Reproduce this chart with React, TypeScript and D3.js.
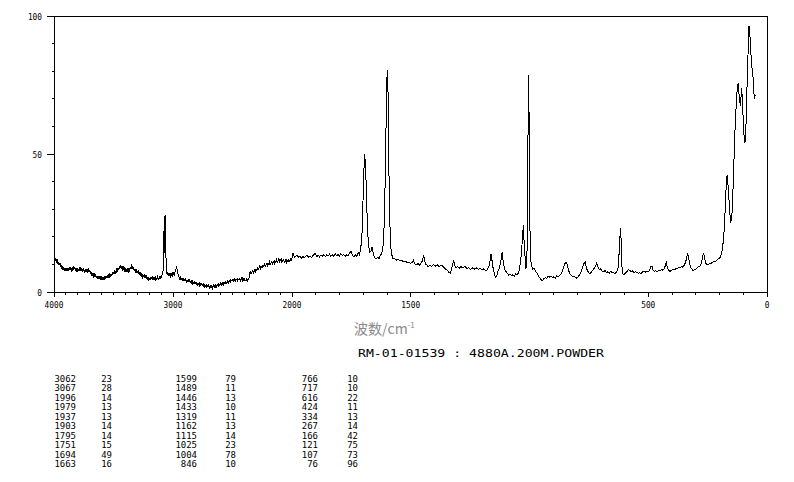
import React from "react";
import * as d3 from "d3";

// ---- data ----
const xBreaks = [4000, 2000, 0];
const xTickLabels = [4000, 3000, 2000, 1500, 500, 0];
const yTickLabels = [0, 50, 100];

// spectrum 4000-2000 cm-1 (compressed region)
const specHigh: [number, number][] = [
  [4000, 10.5], [3995, 12.0], [3990, 11.2], [3985, 12.3], [3980, 10.6], [3975, 11.9], [3970, 11.4], [3965, 10.0],
  [3960, 10.8], [3955, 9.7], [3950, 10.6], [3945, 9.0], [3940, 9.6], [3935, 8.2], [3930, 8.9], [3925, 8.0],
  [3920, 9.0], [3915, 7.8], [3910, 8.4], [3905, 7.6], [3900, 8.8], [3895, 7.7], [3890, 8.4], [3885, 7.5],
  [3880, 8.6], [3875, 7.8], [3870, 8.2], [3865, 9.0], [3860, 7.9], [3855, 8.8], [3850, 7.4], [3845, 8.6],
  [3840, 8.0], [3835, 9.3], [3830, 8.2], [3825, 9.0], [3820, 7.6], [3815, 8.8], [3810, 7.9], [3805, 8.6],
  [3800, 7.2], [3795, 8.4], [3790, 7.6], [3785, 8.9], [3780, 7.8], [3775, 9.2], [3770, 8.0], [3765, 8.6],
  [3760, 7.4], [3755, 8.5], [3750, 7.8], [3745, 7.0], [3740, 8.0], [3735, 7.2], [3730, 8.4], [3725, 7.4],
  [3720, 8.2], [3715, 7.0], [3710, 8.6], [3705, 7.3], [3700, 7.6], [3695, 6.8], [3690, 7.3], [3685, 6.2],
  [3680, 6.8], [3675, 6.0], [3670, 6.9], [3665, 5.6], [3660, 6.2], [3655, 5.4], [3650, 6.3], [3645, 5.0],
  [3640, 5.8], [3635, 4.9], [3630, 5.9], [3625, 4.8], [3620, 5.5], [3615, 4.6], [3610, 5.7], [3605, 4.5],
  [3600, 5.2], [3595, 4.6], [3590, 5.5], [3585, 4.7], [3580, 5.3], [3575, 4.8], [3570, 5.9], [3565, 5.0],
  [3560, 5.6], [3555, 5.1], [3550, 6.3], [3545, 5.4], [3540, 6.1], [3535, 5.6], [3530, 6.8], [3525, 5.9],
  [3520, 6.5], [3515, 6.0], [3510, 7.3], [3505, 6.4], [3500, 7.0], [3495, 6.6], [3490, 7.9], [3485, 7.0],
  [3480, 7.6], [3475, 7.2], [3470, 8.7], [3465, 7.8], [3460, 8.4], [3455, 8.0], [3450, 9.1], [3445, 8.6],
  [3440, 9.7], [3435, 8.3], [3430, 9.0], [3425, 8.4], [3420, 9.5], [3415, 8.0], [3410, 8.6], [3405, 7.6],
  [3400, 8.2], [3395, 7.2], [3390, 7.8], [3385, 7.4], [3380, 8.2], [3375, 7.6], [3370, 8.6], [3365, 7.9],
  [3360, 8.4], [3355, 8.8], [3350, 9.4], [3345, 8.4], [3340, 8.9], [3335, 8.2], [3330, 9.1], [3325, 7.6],
  [3320, 8.2], [3315, 7.5], [3310, 8.4], [3305, 6.9], [3300, 7.5], [3295, 7.0], [3290, 7.8], [3285, 6.4],
  [3280, 6.9], [3275, 6.2], [3270, 7.1], [3265, 5.8], [3260, 6.3], [3255, 5.3], [3250, 6.0], [3245, 5.6],
  [3240, 6.4], [3235, 5.0], [3230, 5.6], [3225, 5.1], [3220, 6.0], [3215, 4.8], [3210, 5.3], [3205, 4.4],
  [3200, 4.9], [3195, 4.5], [3190, 5.5], [3185, 4.6], [3180, 5.0], [3175, 4.6], [3170, 5.7], [3165, 4.7],
  [3160, 5.2], [3155, 4.8], [3150, 5.6], [3145, 4.5], [3140, 4.9], [3135, 4.6], [3130, 5.4], [3125, 4.6],
  [3120, 5.0], [3115, 4.9], [3110, 5.8], [3105, 4.9], [3100, 5.3], [3095, 5.6], [3090, 6.5], [3085, 7.2],
  [3080, 9.0], [3076, 22], [3072, 14], [3067, 28], [3064, 18], [3062, 23], [3058, 10], [3054, 7.6],
  [3050, 6.6], [3045, 7.2], [3040, 5.8], [3035, 6.6], [3030, 6.2], [3025, 6.9], [3020, 5.6], [3015, 6.2],
  [3010, 6.6], [3005, 6.0], [3000, 7.1], [2995, 6.4], [2990, 6.0], [2985, 6.9], [2980, 7.6], [2975, 8.4],
  [2970, 9.3], [2965, 8.0], [2960, 7.0], [2955, 6.0], [2950, 5.4], [2945, 5.0], [2940, 4.4], [2935, 5.3],
  [2930, 4.9], [2925, 4.3], [2920, 4.7], [2915, 4.0], [2910, 5.0], [2905, 4.2], [2900, 4.0], [2895, 4.7],
  [2890, 4.3], [2885, 3.6], [2880, 4.1], [2875, 3.8], [2870, 4.7], [2865, 3.7], [2860, 4.2], [2855, 3.3],
  [2850, 3.7], [2845, 3.4], [2840, 4.2], [2835, 3.0], [2830, 3.5], [2825, 3.1], [2820, 3.9], [2815, 2.8],
  [2810, 3.2], [2805, 2.8], [2800, 3.7], [2795, 2.6], [2790, 3.0], [2785, 2.7], [2780, 3.5], [2775, 2.3],
  [2770, 2.8], [2765, 2.4], [2760, 3.3], [2755, 2.2], [2750, 2.6], [2745, 2.3], [2740, 3.1], [2735, 2.0],
  [2730, 2.4], [2725, 2.1], [2720, 3.0], [2715, 1.8], [2710, 2.2], [2705, 1.9], [2700, 2.8], [2695, 1.5],
  [2690, 2.0], [2685, 1.7], [2680, 2.6], [2675, 1.6], [2670, 1.1], [2665, 1.9], [2660, 2.4], [2655, 1.6],
  [2650, 2.1], [2645, 1.9], [2640, 2.9], [2635, 1.9], [2630, 2.3], [2625, 2.2], [2620, 3.1], [2615, 2.1],
  [2610, 2.6], [2605, 2.5], [2600, 3.4], [2595, 2.4], [2590, 2.9], [2585, 2.8], [2580, 3.6], [2575, 2.7],
  [2570, 3.2], [2565, 3.1], [2560, 4.0], [2555, 3.0], [2550, 3.5], [2545, 3.4], [2540, 4.3], [2535, 3.3],
  [2530, 3.8], [2525, 3.7], [2520, 4.5], [2515, 3.6], [2510, 4.1], [2505, 4.0], [2500, 4.8], [2495, 3.8],
  [2490, 4.3], [2485, 4.2], [2480, 5.0], [2475, 4.0], [2470, 4.5], [2465, 4.4], [2460, 5.2], [2455, 4.1],
  [2450, 4.6], [2445, 4.3], [2440, 5.1], [2435, 3.9], [2430, 4.4], [2425, 4.4], [2420, 5.3], [2415, 4.2],
  [2410, 4.7], [2405, 4.2], [2400, 5.0], [2395, 3.9], [2390, 4.3], [2385, 4.3], [2380, 5.1], [2375, 4.0],
  [2370, 4.5], [2365, 4.4], [2360, 5.4], [2355, 6.6], [2350, 7.6], [2345, 6.6], [2340, 7.0], [2335, 7.4],
  [2330, 8.1], [2325, 7.0], [2320, 7.5], [2315, 7.6], [2310, 8.4], [2305, 7.5], [2300, 8.0], [2295, 8.2],
  [2290, 9.1], [2285, 8.0], [2280, 8.5], [2275, 8.7], [2270, 9.6], [2265, 8.5], [2260, 9.0], [2255, 9.0],
  [2250, 9.8], [2245, 8.9], [2240, 9.4], [2235, 9.6], [2230, 10.3], [2225, 9.2], [2220, 9.7], [2215, 9.8],
  [2210, 10.5], [2205, 9.6], [2200, 10.1], [2195, 10.2], [2190, 10.8], [2185, 9.8], [2180, 10.3], [2175, 10.5],
  [2170, 11.1], [2165, 10.1], [2160, 10.6], [2155, 10.8], [2150, 11.4], [2145, 10.4], [2140, 10.9], [2135, 11.0],
  [2130, 11.7], [2125, 10.7], [2120, 11.2], [2115, 11.3], [2110, 12.0], [2105, 11.0], [2100, 11.5], [2095, 11.4],
  [2090, 12.1], [2085, 10.9], [2080, 11.4], [2075, 11.2], [2070, 11.9], [2065, 10.8], [2060, 11.2], [2055, 11.1],
  [2050, 11.8], [2045, 10.7], [2040, 11.1], [2035, 11.2], [2030, 12.0], [2025, 11.0], [2020, 11.5], [2015, 11.4],
  [2010, 12.2], [2005, 11.8], [2000, 12.4],
];

// spectrum 2000-50 cm-1 (expanded region)
const specLow: [number, number][] = [
  [1996, 14], [1990, 12.6], [1984, 12.9], [1979, 13.4], [1972, 12.5], [1966, 12.9], [1960, 12.3], [1954, 12.8],
  [1948, 12.4], [1942, 13.0], [1937, 13.3], [1930, 12.6], [1924, 13.1], [1918, 12.5], [1912, 13.2], [1903, 14],
  [1896, 12.8], [1890, 13.3], [1884, 12.7], [1878, 13.4], [1872, 12.9], [1866, 13.6], [1860, 12.8], [1854, 13.4],
  [1848, 13.0], [1842, 13.7], [1836, 12.9], [1830, 13.5], [1824, 13.0], [1818, 13.8], [1812, 13.2], [1806, 13.6],
  [1800, 13.1], [1795, 14.0], [1788, 13.2], [1782, 13.6], [1776, 12.9], [1770, 13.4], [1764, 13.0], [1758, 14.1],
  [1751, 14.8], [1745, 13.3], [1739, 12.8], [1733, 13.6], [1727, 12.7], [1721, 14.2], [1716, 13.4], [1712, 15.2],
  [1706, 19], [1700, 36], [1696, 47], [1694, 50], [1691, 46], [1687, 38], [1683, 25], [1678, 17],
  [1672, 14.5], [1667, 15], [1663, 16.2], [1658, 14], [1652, 12.4], [1646, 12.0], [1640, 12.6], [1634, 12.1],
  [1628, 13.2], [1622, 14], [1616, 17], [1611, 26], [1606, 48], [1602, 72], [1599, 80.5], [1596, 75],
  [1593, 50], [1589, 28], [1585, 17], [1580, 13.5], [1575, 12.2], [1568, 12.0], [1560, 11.6], [1552, 11.9],
  [1545, 11.3], [1538, 11.5], [1530, 10.9], [1522, 11.2], [1515, 10.6], [1508, 10.9], [1500, 10.4], [1493, 10.8],
  [1489, 11.5], [1484, 10.2], [1476, 9.9], [1468, 10.3], [1462, 9.6], [1456, 10.5], [1450, 11.5], [1446, 13.4],
  [1441, 11.0], [1436, 9.8], [1433, 10.1], [1428, 9.2], [1420, 9.6], [1412, 9.3], [1404, 9.9], [1396, 9.4],
  [1388, 9.8], [1380, 9.2], [1372, 9.7], [1364, 9.3], [1356, 8.5], [1348, 8.0], [1340, 7.2], [1334, 6.8],
  [1328, 8.2], [1323, 10.2], [1319, 11.2], [1314, 9.4], [1308, 8.8], [1302, 9.2], [1296, 8.6], [1288, 9.2],
  [1280, 8.7], [1272, 9.3], [1264, 8.5], [1256, 8.9], [1248, 8.2], [1240, 8.7], [1232, 8.3], [1224, 8.8],
  [1216, 8.2], [1208, 8.5], [1200, 8.0], [1192, 8.4], [1184, 7.6], [1177, 8.2], [1170, 9.5], [1165, 12.0],
  [1162, 13.8], [1158, 11.5], [1153, 8.5], [1148, 6.8], [1143, 5.2], [1138, 5.6], [1133, 7.4], [1126, 9.0],
  [1120, 11.5], [1115, 14.6], [1111, 11.2], [1106, 8.6], [1100, 7.5], [1094, 6.8], [1088, 6.2], [1082, 6.6],
  [1076, 5.9], [1070, 6.3], [1064, 5.8], [1058, 6.5], [1052, 6.2], [1046, 7.0], [1041, 9], [1035, 13],
  [1030, 19], [1026, 24.2], [1022, 17], [1018, 12], [1015, 8.5], [1011, 12], [1008, 28], [1006, 60],
  [1004, 78.5], [1002, 65], [999, 28], [996, 13], [992, 9.5], [986, 8.2], [980, 8.6], [974, 7.4],
  [968, 6.8], [962, 5.6], [956, 5.0], [950, 4.3], [946, 4.1], [940, 4.8], [934, 5.2], [928, 5.0],
  [922, 5.6], [916, 5.4], [910, 5.8], [904, 5.2], [898, 5.5], [892, 5.0], [886, 5.9], [880, 5.4],
  [874, 6.0], [868, 6.4], [862, 7.4], [856, 9.0], [850, 10.4], [846, 10.8], [842, 10.0], [836, 8.0],
  [830, 6.6], [824, 6.0], [818, 5.6], [812, 5.8], [806, 5.2], [800, 5.0], [794, 5.6], [788, 6.4],
  [782, 7.6], [776, 9.2], [770, 10.4], [766, 11.0], [762, 9.4], [756, 7.6], [750, 7.0], [745, 6.6],
  [740, 7.2], [734, 7.8], [728, 8.6], [722, 9.4], [717, 10.6], [712, 9.2], [706, 8.0], [700, 8.4],
  [694, 7.6], [688, 7.4], [682, 7.8], [676, 7.0], [670, 7.3], [664, 6.8], [658, 7.5], [652, 6.9],
  [646, 7.1], [640, 6.6], [634, 7.3], [628, 8.2], [624, 12], [620, 19], [616, 23], [613, 15],
  [610, 8], [606, 6.4], [602, 6.3], [596, 6.9], [590, 7.4], [584, 8.0], [578, 7.9], [572, 7.2],
  [566, 7.6], [560, 7.0], [554, 7.4], [548, 7.1], [542, 6.8], [536, 7.0], [530, 6.7], [524, 7.3],
  [518, 7.6], [512, 7.2], [506, 7.5], [500, 7.3], [494, 8.0], [488, 9.4], [484, 9.2], [480, 8.0],
  [474, 7.5], [468, 7.7], [462, 7.4], [456, 7.9], [450, 7.6], [444, 8.1], [438, 7.9], [432, 8.6],
  [428, 9.6], [424, 10.6], [420, 9.2], [414, 7.8], [408, 7.4], [402, 7.9], [396, 8.1], [390, 8.0],
  [384, 8.5], [378, 8.4], [372, 8.8], [366, 8.7], [360, 9.2], [354, 9.0], [348, 9.8], [342, 11.0],
  [338, 12.6], [334, 14.0], [330, 12.4], [326, 10.4], [320, 8.8], [314, 8.0], [310, 7.7], [304, 8.1],
  [298, 8.4], [292, 9.0], [286, 9.2], [280, 9.6], [275, 11], [271, 13], [267, 14.2], [263, 12.5],
  [258, 10.5], [253, 10.0], [248, 9.8], [242, 10.3], [236, 10.4], [230, 10.7], [224, 11.0], [218, 11.1],
  [212, 11.5], [206, 11.9], [200, 12.2], [196, 12.8], [192, 13.8], [188, 15.5], [184, 18.5], [180, 23],
  [176, 30], [172, 38], [168, 42.5], [165, 40], [162, 36], [159, 32], [156, 28], [153, 25.5],
  [150, 26], [147, 29], [144, 35], [140, 45], [136, 56], [132, 64], [128, 70], [125, 74],
  [121, 75.8], [118, 72], [115, 69], [112, 67.5], [109, 71], [107, 73.8], [104, 70], [101, 64],
  [98, 58], [95, 55], [93, 54], [90, 57], [87, 64], [84, 75], [80, 86], [78, 92],
  [76, 96.3], [73, 95], [70, 90], [66, 84], [63, 81], [60, 79], [57, 76], [55, 72],
  [52, 70], [50, 71.5],
];

// peak table
const peakWn1 = ["3062", "3067", "1996", "1979", "1937", "1903", "1795", "1751", "1694", "1663"];
const peakInt1 = ["23", "28", "14", "13", "13", "14", "14", "15", "49", "16"];
const peakWn2 = ["1599", "1489", "1446", "1433", "1319", "1162", "1115", "1025", "1004", "846"];
const peakInt2 = ["79", "11", "13", "10", "11", "13", "14", "23", "78", "10"];
const peakWn3 = ["766", "717", "616", "424", "334", "267", "166", "121", "107", "76"];
const peakInt3 = ["10", "10", "22", "11", "13", "14", "42", "75", "73", "96"];

const titleText = "RM-01-01539 : 4880A.200M.POWDER";

export default function App() {
  const W = 794, H = 482;
  const left = 54, right = 767, top = 16, bottom = 292;
  const x = d3.scaleLinear().domain(xBreaks).range([left, 292, right]);
  const y = d3.scaleLinear().domain([0, 100]).range([bottom, top]);

  const spectrum = [...specHigh, ...specLow];
  const line = d3.line<[number, number]>().x((d) => x(d[0])).y((d) => y(d[1]));

  const xMinor = d3.range(0, 4001, 100);
  const yMinor = d3.range(0, 101, 10);
  const mono = "'DejaVu Sans Mono', monospace";

  const tableCols = [
    { wn: peakWn1, it: peakInt1, xw: 76, xi: 112 },
    { wn: peakWn2, it: peakInt2, xw: 197, xi: 236 },
    { wn: peakWn3, it: peakInt3, xw: 318, xi: 358 },
  ];

  return (
    <svg width={W} height={H} style={{ position: "absolute", left: 0, top: 0, background: "#fff" }}>
      <rect x={0} y={0} width={W} height={H} fill="#fff" />
      {/* frame */}
      <rect x={left} y={top} width={right - left} height={bottom - top} fill="none" stroke="#000" strokeWidth={1} shapeRendering="crispEdges" />
      {/* y ticks */}
      {yMinor.map((v) => {
        const major = yTickLabels.includes(v);
        return (
          <line key={"yt" + v} x1={left - (major ? 7 : 2.5)} x2={left} y1={y(v)} y2={y(v)} stroke="#000" shapeRendering="crispEdges" />
        );
      })}
      {yTickLabels.map((v) => (
        <text key={"yl" + v} x={42} y={y(v) + 3.5} textAnchor="end" fontFamily={mono} fontSize={9.5}
          textLength={String(v).length * 4.7} lengthAdjust="spacingAndGlyphs">{v}</text>
      ))}
      {/* x ticks */}
      {xMinor.map((v) => {
        const major = xTickLabels.includes(v);
        return (
          <line key={"xt" + v} x1={x(v)} x2={x(v)} y1={bottom} y2={bottom + (major ? 5 : 3)} stroke="#000" shapeRendering="crispEdges" />
        );
      })}
      {xTickLabels.map((v) => (
        <text key={"xl" + v} x={x(v)} y={308} textAnchor="middle" fontFamily={mono} fontSize={9.5}
          textLength={String(v).length * 4.7} lengthAdjust="spacingAndGlyphs">{v}</text>
      ))}
      {/* spectrum */}
      <path d={line(spectrum) || ""} fill="none" stroke="#000" strokeWidth={1} shapeRendering="crispEdges" />
      {/* axis title */}
      <text x={354} y={334} fontFamily="'Noto Sans CJK SC', sans-serif" fontSize={14} fill="#8a8a8a">
        波数/cm<tspan fontSize={8} dy={-6}>-1</tspan>
      </text>
      <text x={358} y={357} fontFamily={mono} fontSize={11} textLength={246} lengthAdjust="spacingAndGlyphs">{titleText}</text>
      {/* peak table */}
      {tableCols.map((c, ci) =>
        c.wn.map((w, i) => (
          <g key={"t" + ci + "_" + i}>
            <text x={c.xw} y={381.5 + i * 9.55} textAnchor="end" fontFamily={mono} fontSize={9.5}
              textLength={w.length * 5.4} lengthAdjust="spacingAndGlyphs">{w}</text>
            <text x={c.xi} y={381.5 + i * 9.55} textAnchor="end" fontFamily={mono} fontSize={9.5}
              textLength={c.it[i].length * 5.4} lengthAdjust="spacingAndGlyphs">{c.it[i]}</text>
          </g>
        ))
      )}
    </svg>
  );
}
